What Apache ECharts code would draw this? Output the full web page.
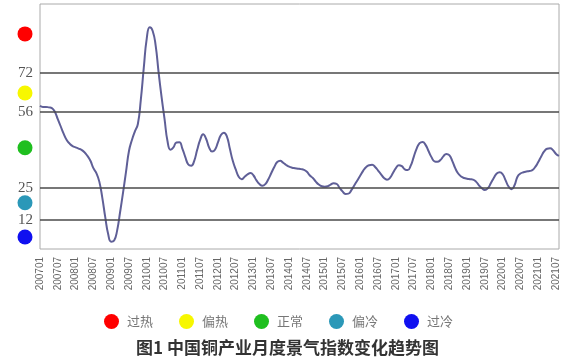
<!DOCTYPE html>
<html><head><meta charset="utf-8">
<script src="https://cdn.jsdelivr.net/npm/echarts@6/dist/echarts.min.js"></script>
<style>html,body{margin:0;padding:0;background:#fff}#c{width:575px;height:364px}</style>
</head><body><div id="c"></div>
<script>
// months 200701 .. 202108
const months = [];
for (let y = 2007; y <= 2021; y++) for (let m = 1; m <= 12; m++) { if (y === 2021 && m > 8) break; months.push(String(y) + (m < 10 ? '0' : '') + m); }

const indexValues = [
58.5,58,58,57.8,57.5,56,53,50,47,44.5,43,42,41.5,41,40.5,39.5,38,36,33,31,
27.5,21,13,6,3,3.5,7.5,15,23,31.5,40,44.5,48,51,61,74,86,90.5,89,83,
72,62,53,44,40.5,41.5,43.5,43.6,41,37.5,34.5,34,36,40.5,44.5,46.8,45,41.5,39.8,40.5,
43.5,46.5,47.5,46,41,36,32.5,29.5,28.5,29.5,30.5,31,30,28,26.5,25.8,26.5,28.5,31,33.5,
35.5,36,35.2,34.3,33.6,33.2,33,32.8,32.6,32.3,31.5,30,29,27.5,26.3,25.6,25.4,25.6,26.3,26.8,
26.6,25,23.5,22.5,22.6,24,26,28,30,32,33.5,34.2,34.4,33.5,32,30.5,29,28.3,29,31,
33,34.2,33.8,32.5,32.2,34,37.5,41,43.2,43.7,42.5,40,37.5,35.8,35.6,36.3,37.8,38.8,38.3,36,
33,30.8,29.6,29,28.7,28.5,28.3,27.5,26,24.8,24.1,24.8,26.8,29,30.8,31.3,30.5,28,25.5,24.4,
26,29.5,30.8,31.3,31.6,31.8,32.2,33.5,35.5,37.8,39.8,40.9,41.1,40.3,38.8,38
];

const thresholds = [12, 25, 56, 72];
const zoneNames = ['过热', '偏热', '正常', '偏冷', '过冷'];
const zoneLevels = [87.8, 63.7, 41.3, 18.9, 4.9];
const zoneColors = ['#ff0000', '#f7f700', '#1fbf1f', '#2b98b8', '#1010f0'];

const chart = echarts.init(document.getElementById('c'), null, {renderer: 'canvas'});

const series = [{
  type: 'line', xAxisIndex: 0, yAxisIndex: 0,
  data: indexValues, smooth: 0.5, symbol: 'none',
  lineStyle: {color: '#5f5f97', width: 2},
  markLine: {
    silent: true, symbol: 'none', label: {show: false},
    lineStyle: {color: '#4a4a4a', width: 1.5, type: 'solid'},
    data: thresholds.map(v => ({yAxis: v}))
  },
  z: 3
}];
zoneNames.forEach((n, i) => {
  series.push({
    type: 'scatter', name: n, xAxisIndex: 1, yAxisIndex: 1,
    data: [[0.5, zoneLevels[i]]], symbolSize: 15,
    itemStyle: {color: zoneColors[i], opacity: 1}
  });
});

chart.setOption({
  animation: false,
  title: {
    text: '图1 中国铜产业月度景气指数变化趋势图', left: 'center', top: 334,
    textStyle: {fontSize: 17, fontWeight: 'bold', color: '#333', fontFamily: 'Noto Sans CJK SC'}
  },
  legend: {
    data: zoneNames, left: 99, top: 309, icon: 'circle',
    itemWidth: 15, itemHeight: 15, itemGap: 26,
    itemStyle: {opacity: 1},
    textStyle: {fontSize: 13, color: '#777', fontFamily: 'Noto Sans CJK SC', padding: [0, 0, 0, 3]}
  },
  grid: [
    {left: 40, right: 16, top: 4, bottom: 115, show: true, borderColor: '#aaa', borderWidth: 1},
    {left: 18, width: 14, top: 4, bottom: 115, show: false}
  ],
  xAxis: [
    {type: 'category', gridIndex: 0, data: months, boundaryGap: false,
     axisLine: {show: false}, axisTick: {show: false}, splitLine: {show: false},
     axisLabel: {interval: 5, rotate: 90, fontSize: 10, color: '#666', margin: 8, fontFamily: 'Liberation Sans'}},
    {type: 'value', gridIndex: 1, min: 0, max: 1, show: false}
  ],
  yAxis: [
    {type: 'value', gridIndex: 0, min: 0, max: 100,
     axisLine: {show: false}, axisTick: {show: false}, splitLine: {show: false},
     axisLabel: {customValues: thresholds, fontSize: 15, color: '#555', margin: 7, fontFamily: 'Liberation Serif'}},
    {type: 'value', gridIndex: 1, min: 0, max: 100, show: false}
  ],
  series: series
});
</script></body></html>
